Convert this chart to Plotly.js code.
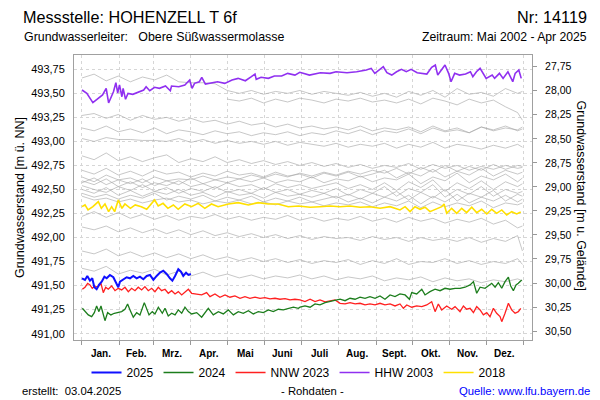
<!DOCTYPE html>
<html>
<head>
<meta charset="utf-8">
<script src="https://cdn.plot.ly/plotly-3.0.1.min.js"></script>
<style>html,body{margin:0;padding:0;background:#fff}#chart{width:600px;height:400px}</style>
</head>
<body>
<div id="chart"></div>
<script>
// ---------- data (day of year, water level m ü. NN) ----------
var monthStarts = [0,31,59,90,120,151,181,212,243,273,304,334,365];
var monthMids = [15.5,45,74.5,105,135.5,166,196.5,227.5,258,288.5,319,349.5];
var monthLabels = ["Jan.","Feb.","Mrz.","Apr.","Mai","Juni","Juli","Aug.","Sept.","Okt.","Nov.","Dez."];

var days2025 = [0,2.5,4.4,6.6,8.5,10.2,12.1,14,16.3,18.5,20.4,23.1,25.9,28.6,30,31.4,34.2,36.9,39.7,42.4,45.2,47.9,50.7,53.5,56.2,59,61.7,64.5,67.2,70,72.7,74.7,76.9,79.6,81.8,83.7,86,87.9,90];
var lvl2025 = [491.576,491.559,491.600,491.551,491.576,491.483,491.462,491.507,491.541,491.593,491.576,491.611,491.587,491.524,491.483,491.541,491.566,491.587,491.576,491.600,491.576,491.593,491.566,491.600,491.611,491.559,491.600,491.635,491.655,491.621,491.576,491.551,491.600,491.670,491.645,491.600,491.635,491.611,491.621];

var days2024 = [0.3,2.5,5.2,8,10.2,12.1,14,15.7,17.6,19,21.2,23.9,26.7,30,32.8,35.5,37.7,39.7,42.4,45.2,47.9,51.5,53.5,55.4,58.1,60.3,63.1,66.4,68.6,71.3,74.1,76.9,79.6,82.4,85.1,87.9,90.6,94.8,98.9,101.7,104.4,108.5,112.7,116.8,120.9,125.1,129.2,133.3,137.5,141.6,145.7,149.9,154,158.1,162.3,166.4,170.5,174.7,178.8,180.2,184.3,188.5,192.6,196.7,200.9,205,209.1,213.3,217.4,221.5,225.7,229.8,233.9,238,242.2,246.3,250.4,254.6,258.7,262.8,267,270.6,272.5,276.6,280.8,283.5,287.6,291.8,295.9,300,304.2,308.3,312.4,316.6,320.7,323.5,326.2,329,333.1,335.9,338.6,341.4,344.1,346.9,349.6,352.4,354.3,356.5,358.7,360.6,363.4];
var lvl2024 = [491.264,491.229,491.195,491.177,491.219,491.288,491.229,491.288,491.195,491.135,491.219,491.195,491.212,491.219,491.229,491.254,491.309,491.247,491.171,491.219,491.195,491.323,491.247,491.195,491.229,491.205,491.275,491.212,491.264,491.184,491.212,491.195,491.247,491.212,491.275,491.229,491.205,491.219,491.171,491.219,491.264,491.195,491.229,491.205,491.247,491.195,491.229,491.212,491.239,491.205,491.229,491.219,491.247,491.229,491.254,491.247,491.264,491.275,491.264,491.275,491.288,491.275,491.309,491.299,491.323,491.333,491.343,491.358,491.343,491.368,491.358,491.379,491.368,491.385,491.368,491.392,491.358,491.403,491.385,491.413,491.403,491.358,491.427,491.413,491.462,491.403,491.437,491.462,491.447,491.472,491.462,491.472,491.472,491.483,491.507,491.541,491.420,491.483,491.472,491.496,491.524,491.483,491.531,491.472,491.541,491.587,491.496,491.447,491.507,491.524,491.559];

var daysNNW2023 = [0.3,2.5,4.7,6.6,8.5,10.7,12.9,15.7,17.6,19.6,21.7,24.5,27.3,30,32.8,35.5,38.3,41,43.8,46.5,49.3,52,54.8,57.6,60.3,63.1,65.8,68.6,71.3,74.1,76.9,79.6,82.4,85.1,87.9,90.6,94.8,98.9,103,105.8,109.9,114,118.2,122.3,126.4,130.6,134.7,138.8,143,147.1,151.2,155.4,159.5,163.6,167.8,171.9,176,180.2,184.3,188.5,192.6,196.7,200.9,205,209.1,213.3,217.4,221.5,225.7,229.8,233.9,238,242.2,246.3,250.4,254.6,258.7,262.8,265.6,268.4,272.5,276.6,280.8,284.9,289,291.8,294.5,297.3,301.4,305.5,308.3,312.4,315.2,317.9,320.7,323.5,326.2,329,331.7,334.5,337.2,340,342.7,345.5,346.9,349.6,352.4,355.1,357.9,360.6,362.6];
var lvlNNW2023 = [491.462,491.483,491.524,491.507,491.472,491.496,491.483,491.524,491.427,491.483,491.462,491.496,491.447,491.472,491.455,491.483,491.437,491.472,491.447,491.483,491.455,491.489,491.447,491.472,491.437,491.483,491.447,491.462,491.420,491.447,491.413,491.437,491.403,491.437,491.462,491.420,491.413,491.403,491.427,491.385,491.413,491.379,491.403,491.379,491.392,491.368,491.385,491.368,491.379,491.368,491.375,491.361,491.368,491.358,491.364,491.351,491.358,491.351,491.333,491.358,491.333,491.351,491.330,491.343,491.351,491.316,491.309,491.323,491.309,491.316,491.299,491.309,491.299,491.316,491.299,491.309,491.288,491.309,491.264,491.299,491.275,491.288,491.281,491.299,491.333,491.229,491.309,491.247,491.288,491.254,491.281,491.229,491.288,491.254,491.264,491.219,491.281,491.247,491.195,491.219,491.177,491.264,491.212,491.177,491.125,491.212,491.316,491.247,491.212,491.229,491.264];

var daysHHW2003 = [0,4,9,13,17,20,22,26,28,29.5,31,33,34,36,38,42,47,51,53,56,60,64,69,73,74,80,85,89,91,93,97,99,102,107,112,118,124,129,135,140,143,144,148,154,159,165,170,176,180,188,197,205,210,219,227,235,239,242,246,249,252,256,260,264,268,272,277,285,289,292,294,297,300,303,305,308,312,317,321,323,326,329,332,334,339,341,345,348,352,356,358,361,363];
var lvlHHW2003 = [493.535,493.500,493.403,493.448,493.483,493.552,493.400,493.517,493.611,493.504,493.587,493.465,493.552,493.438,493.500,493.490,493.517,493.535,493.569,493.527,493.563,493.552,493.576,493.527,493.576,493.569,493.587,493.639,493.552,493.604,493.621,493.667,493.597,493.611,493.621,493.604,493.639,493.656,493.631,493.673,493.701,493.646,493.667,493.656,493.680,493.680,493.708,493.690,493.719,493.690,493.715,493.708,493.725,493.715,493.725,493.743,493.760,493.708,493.750,493.777,493.715,493.690,493.725,493.750,493.725,493.750,493.715,493.701,493.771,493.795,493.690,493.743,493.795,493.708,493.621,493.708,493.690,493.701,493.725,493.673,493.725,493.760,493.690,493.656,493.690,493.656,493.708,493.656,493.725,493.621,493.708,493.743,493.656];

var days2018 = [0,2.5,5,9,13.5,16,19,22,24.5,27,30,33,35.5,40,44,49,53.5,57.5,60,63,67,71,75.5,79.5,85,90.5,96,101.5,107,112.5,121,129,137.5,145.5,154,162,170.5,179,188.5,196.7,205,213.3,221.5,229.8,238,246.3,254.6,262.8,267,271.1,275.2,279.4,283.5,287.6,293.1,297.3,299.2,301.4,305.5,309.7,313.8,317.9,322.1,326.2,330.3,334.5,338.6,342.7,346.9,351,355.1,359.3,362.6];
var lvl2018 = [492.321,492.339,492.287,492.321,492.373,492.304,492.349,492.269,492.321,492.269,492.391,492.304,492.349,492.304,492.339,492.321,492.294,492.356,492.391,492.328,492.356,492.304,492.339,492.294,492.349,492.321,492.356,492.304,492.349,492.321,492.349,492.363,492.339,492.363,492.349,492.349,492.321,492.328,492.315,492.321,492.328,492.321,492.328,492.315,492.321,492.304,492.321,492.287,492.321,492.269,492.321,492.294,492.315,492.269,492.294,492.321,492.349,492.252,492.304,492.252,492.304,492.259,492.315,492.259,492.294,492.245,492.294,492.252,492.287,492.235,492.269,492.245,492.266];

// other years (grey), common sampling days
var grayDays = [0,10,20,30,40,50,60,70,80,90,100,110,120,130,140,150,160,170,180,190,200,210,220,230,240,250,260,270,280,290,300,310,320,330,340,350,360,364];
var grayA = [493.66,493.70,493.63,493.68,493.62,493.67,493.64,493.69,493.62,493.61,493.61,493.60,493.53,493.50,493.53,493.49,493.52,493.50,493.53,493.49,493.52,493.50,493.48,493.51,493.47,493.50,493.46,493.52,493.48,493.53,493.46,493.55,493.49,493.51,493.47,493.55,493.50,493.52];
var grayB = [null,null,null,null,null,null,null,null,null,null,null,null,493.44,493.42,493.45,493.40,493.44,493.41,493.45,493.43,493.40,493.44,493.42,493.45,493.41,493.43,493.40,493.44,493.39,493.45,493.42,493.38,493.44,493.40,493.43,493.36,493.30,493.22];
var grayC = [493.27,493.29,493.24,493.28,493.22,493.27,493.23,493.25,493.21,493.24,493.20,493.22,493.18,493.21,493.17,493.19,493.15,493.18,493.14,493.16,493.13,493.15,493.12,493.16,493.11,493.14,493.12,493.15,493.10,493.16,493.11,493.14,493.09,493.15,493.12,493.16,493.11,493.13];
var grayD = [493.14,493.11,493.16,493.10,493.13,493.09,493.14,493.08,493.12,493.10,493.07,493.11,493.08,493.10,493.06,493.09,493.07,493.10,493.06,493.09,493.07,493.11,493.08,493.12,493.07,493.11,493.09,493.13,493.08,493.14,493.10,493.12,493.09,493.15,493.11,493.14,493.12,493.15];
var grayE = [493.03,493.00,493.04,493.02,493.02,493.01,493.01,493.00,493.03,492.99,493.02,492.98,493.01,492.98,493.00,492.97,493.00,492.96,492.99,492.97,492.95,492.98,492.94,492.97,492.95,492.98,492.93,492.97,492.94,492.99,492.93,492.97,492.95,492.92,492.96,492.93,492.97,492.94];
var grayF = [492.85,492.81,492.88,492.80,492.84,492.79,492.83,492.86,492.78,492.82,492.79,492.84,492.78,492.81,492.77,492.80,492.76,492.79,492.75,492.78,492.74,492.77,492.73,492.76,492.72,492.75,492.73,492.77,492.71,492.76,492.72,492.75,492.70,492.74,492.71,492.75,492.72,492.73];
var grayG = [492.70,492.66,492.72,492.65,492.69,492.64,492.70,492.66,492.68,492.63,492.67,492.64,492.69,492.65,492.67,492.63,492.68,492.64,492.66,492.62,492.67,492.64,492.68,492.63,492.66,492.70,492.62,492.68,492.64,492.71,492.63,492.69,492.65,492.72,492.64,492.70,492.66,492.68];
var grayH = [492.63,492.58,492.65,492.60,492.62,492.57,492.63,492.59,492.61,492.60,492.64,492.60,492.63,492.61,492.65,492.62,492.66,492.63,492.67,492.64,492.68,492.65,492.69,492.66,492.70,492.67,492.72,492.66,492.73,492.68,492.75,492.69,492.74,492.70,492.76,492.71,492.75,492.74];
var grayI = [492.59,492.55,492.61,492.53,492.58,492.52,492.57,492.54,492.59,492.53,492.56,492.51,492.57,492.53,492.55,492.50,492.56,492.52,492.55,492.51,492.54,492.57,492.51,492.55,492.50,492.57,492.49,492.58,492.52,492.60,492.48,492.57,492.51,492.59,492.50,492.58,492.53,492.56];
var grayJ = [492.54,492.50,492.47,492.53,492.49,492.55,492.48,492.52,492.46,492.51,492.48,492.53,492.47,492.50,492.46,492.52,492.47,492.50,492.45,492.49,492.46,492.51,492.44,492.50,492.46,492.53,492.43,492.51,492.47,492.55,492.42,492.50,492.45,492.53,492.43,492.50,492.46,492.48];
var grayK = [492.50,492.46,492.52,492.44,492.49,492.43,492.48,492.45,492.50,492.44,492.47,492.42,492.48,492.44,492.46,492.41,492.47,492.43,492.45,492.42,492.46,492.41,492.45,492.40,492.46,492.42,492.48,492.39,492.47,492.41,492.50,492.38,492.46,492.42,492.49,492.38,492.45,492.43];
var grayL = [492.46,492.42,492.45,492.40,492.44,492.41,492.46,492.39,492.43,492.40,492.44,492.38,492.42,492.39,492.43,492.37,492.41,492.38,492.42,492.37,492.40,492.43,492.37,492.41,492.36,492.42,492.38,492.44,492.35,492.43,492.37,492.45,492.36,492.42,492.38,492.44,492.37,492.40];
var grayM = [492.43,492.39,492.41,492.37,492.40,492.36,492.39,492.41,492.37,492.39,492.35,492.38,492.36,492.39,492.35,492.37,492.34,492.38,492.35,492.37,492.33,492.36,492.34,492.37,492.32,492.36,492.33,492.38,492.31,492.37,492.32,492.36,492.33,492.38,492.31,492.36,492.34,492.36];
var grayN = [492.57,492.62,492.55,492.60,492.56,492.61,492.54,492.59,492.55,492.62,492.56,492.60,492.57,492.61,492.58,492.62,492.57,492.60,492.58,492.63,492.57,492.61,492.59,492.64,492.58,492.62,492.60,492.66,492.56,492.63,492.59,492.67,492.57,492.64,492.60,492.66,492.58,492.62];
var grayO = [492.22,492.27,492.21,492.26,492.20,492.24,492.19,492.23,492.18,492.22,492.20,492.24,492.19,492.22,492.18,492.21,492.19,492.23,492.18,492.21,492.17,492.20,492.18,492.22,492.17,492.20,492.16,492.21,492.17,492.20,492.15,492.19,492.16,492.20,492.14,492.18,492.10,492.12];
var grayP = [492.11,492.08,492.12,492.06,492.10,492.05,492.09,492.04,492.08,492.03,492.07,492.02,492.05,492.01,492.04,492.00,492.03,491.99,492.02,491.98,492.01,491.99,492.00,491.97,492.01,491.98,492.00,491.96,492.00,491.97,491.99,491.96,492.00,491.95,491.99,491.96,492.02,491.86];
var grayQ = [491.86,491.83,491.88,491.81,491.85,491.80,491.84,491.79,491.83,491.78,491.82,491.77,491.80,491.76,491.79,491.75,491.78,491.74,491.77,491.73,491.76,491.74,491.77,491.72,491.76,491.73,491.78,491.72,491.75,491.74,491.78,491.73,491.76,491.72,491.75,491.73,491.78,491.72];
var grayR = [491.68,491.65,491.70,491.62,491.66,491.63,491.67,491.61,491.65,491.60,491.64,491.59,491.62,491.58,491.61,491.57,491.60,491.58,491.61,491.57,491.60,491.56,491.59,491.57,491.60,491.55,491.58,491.56,491.59,491.54,491.58,491.55,491.57,491.53,491.56,491.54,491.57,491.55];

var groundLevel = 521.527; // m ü. NN, for the depth axis

// ---------- chart ----------
var FONT = "Liberation Sans, Arial, sans-serif";
var grayList = [grayA,grayB,grayC,grayD,grayE,grayF,grayG,grayH,grayI,grayJ,grayK,grayL,grayM,grayN,grayO,grayP,grayQ,grayR];
var traces = grayList.map(function(g){
  return {x: grayDays, y: g, type: 'scatter', mode: 'lines', showlegend: false,
          hoverinfo: 'skip', connectgaps: false,
          line: {color: 'rgba(165,165,165,0.7)', width: 0.9}};
});
traces.push({x: days2018, y: lvl2018, name: '2018', mode: 'lines', legendrank: 5, line: {color: '#ffe000', width: 1.6}});
traces.push({x: daysHHW2003, y: lvlHHW2003, name: 'HHW 2003', mode: 'lines', legendrank: 4, line: {color: '#9030f0', width: 1.6}});
traces.push({x: daysNNW2023, y: lvlNNW2023, name: 'NNW 2023', mode: 'lines', legendrank: 3, line: {color: '#ff2020', width: 1.3}});
traces.push({x: days2024, y: lvl2024, name: '2024', mode: 'lines', legendrank: 2, line: {color: '#1c7d1c', width: 1.3}});
traces.push({x: days2025, y: lvl2025, name: '2025', mode: 'lines', legendrank: 1, line: {color: '#1010ff', width: 2}});
// empty trace that registers the depth axis (right side)
traces.push({x: [], y: [], yaxis: 'y2', mode: 'lines', showlegend: false, hoverinfo: 'skip'});

var L = 74, R = 532, T = 55, B = 340;
function px(xp){ return (xp - L) / (R - L); }
function py(yp){ return (B - yp) / (B - T); }

var yMin = 490.934, yMax = 493.899;

var annotations = monthLabels.map(function(m, i){
  return {x: monthMids[i], xref: 'x', y: 0, yref: 'paper', yshift: -13, yanchor: 'middle',
          text: m, showarrow: false, font: {family: FONT, size: 10, color: '#000', weight: 'bold'}};
});
function ann(text, x, y, xanchor, size, color, extra){
  var a = {text: text, x: px(x), y: py(y), xref: 'paper', yref: 'paper', xanchor: xanchor, yanchor: 'middle',
           showarrow: false, borderpad: 0, font: {family: FONT, size: size, color: color || '#000'}};
  for (var k in extra) a[k] = extra[k];
  return a;
}
annotations.push(ann('Messstelle: HOHENZELL T 6f', 22, 17, 'left', 16.2));
annotations.push(ann('Nr: 14119', 588, 17, 'right', 16.2));
annotations.push(ann('Grundwasserleiter:\u00a0\u00a0 Obere Süßwassermolasse', 23, 37, 'left', 12.4));
annotations.push(ann('Zeitraum: Mai 2002 - Apr 2025', 588, 37, 'right', 12.2));
annotations.push(ann('erstellt:\u00a0 03.04.2025', 21, 391.5, 'left', 11.3));
annotations.push(ann('- Rohdaten -', 312, 391.5, 'center', 11.3));
annotations.push(ann('Quelle: www.lfu.bayern.de', 591, 391.5, 'right', 11.3, '#0000ff'));
annotations.push(ann('Grundwasserstand [m u. Gelände]', 580.5, 195, 'center', 12.5, '#000', {textangle: 90}));

var layout = {
  width: 600, height: 400,
  margin: {l: L, r: 600 - R, t: T, b: 400 - B, pad: 0},
  paper_bgcolor: '#fff', plot_bgcolor: '#fff',
  separators: ',.',
  font: {family: FONT, size: 11, color: '#000'},
  showlegend: true,
  legend: {orientation: 'h', x: px(299), xanchor: 'center', y: py(372.5), yanchor: 'middle',
           font: {family: FONT, size: 12}, itemwidth: 30, bgcolor: 'rgba(0,0,0,0)', traceorder: 'normal'},
  xaxis: {range: [-6.6, 371.9], tickmode: 'array', tickvals: monthStarts, ticktext: monthStarts.map(function(){return '';}),
          ticks: 'outside', ticklen: 4, tickcolor: '#999', showgrid: true, gridcolor: '#d6d6d6', griddash: '3px,3px',
          showline: true, mirror: true, linecolor: '#a0a0a0', linewidth: 1, zeroline: false, fixedrange: true},
  yaxis: {range: [yMin, yMax], tick0: 491, dtick: 0.25, tickformat: '.2f', ticks: '',
          ticklabelstandoff: 6, tickfont: {family: FONT, size: 11},
          showgrid: true, gridcolor: '#d6d6d6', griddash: '3px,3px',
          showline: true, mirror: true, linecolor: '#a0a0a0', linewidth: 1, zeroline: false, fixedrange: true,
          title: {text: 'Grundwasserstand [m ü. NN]', font: {family: FONT, size: 12.5}, standoff: 3}},
  yaxis2: {overlaying: 'y', side: 'right', anchor: 'x', range: [groundLevel - yMin, groundLevel - yMax],
           tickmode: 'linear', tick0: 27.75, dtick: 0.25, tickformat: '.2f', ticks: 'outside', ticklen: 4, tickcolor: '#999',
           ticklabelstandoff: 6, tickfont: {family: FONT, size: 10.5},
           showgrid: false, zeroline: false, showline: false, fixedrange: true},
  annotations: annotations
};

Plotly.newPlot('chart', traces, layout, {displayModeBar: false, staticPlot: true});
</script>
</body>
</html>
